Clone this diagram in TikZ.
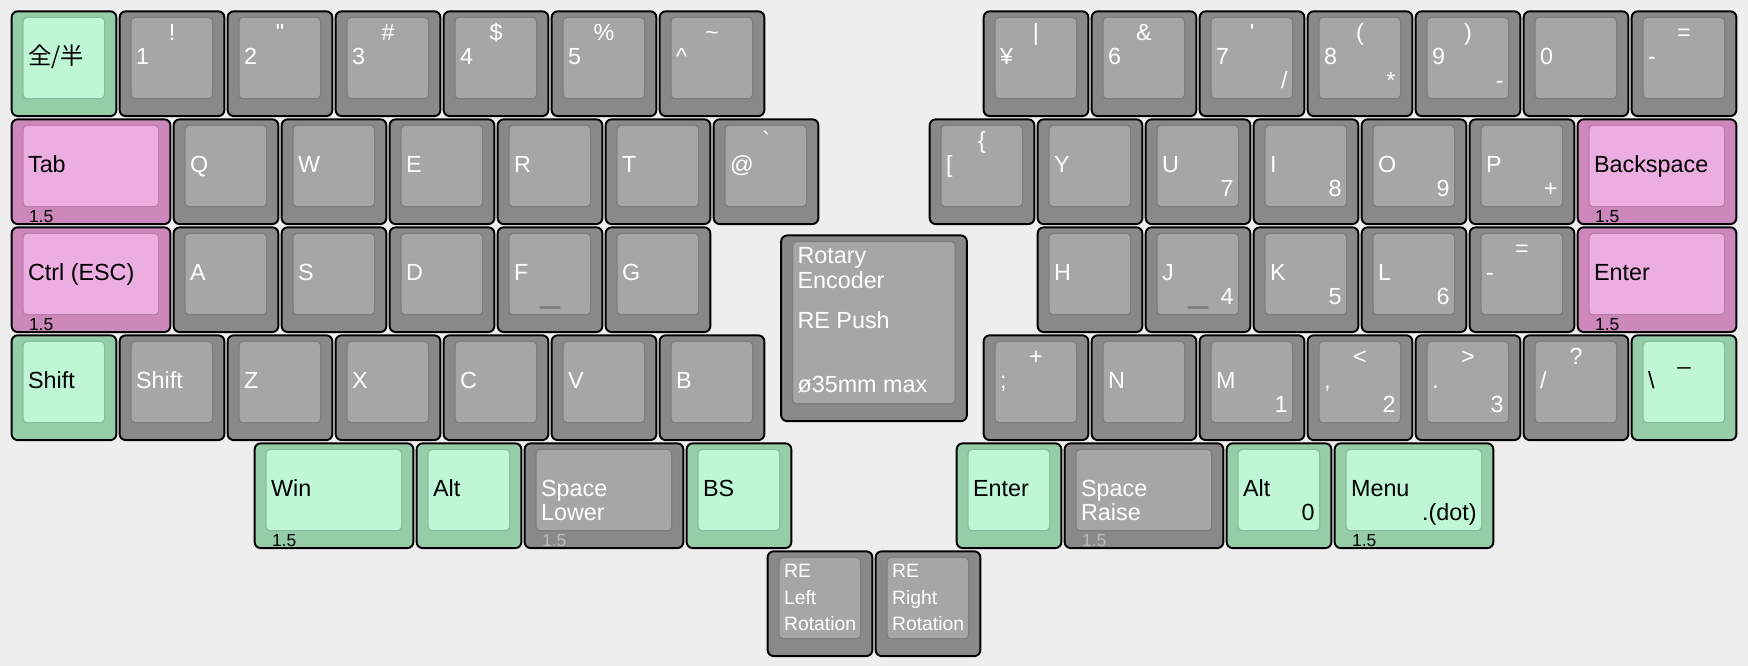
\documentclass[tikz,border=0pt]{standalone}
\usepackage{fontspec}
\setmainfont{Liberation Sans}
\newfontfamily\jpfont{Noto Sans CJK JP}
\usepackage{xcolor}
\usepackage{tikz}

\definecolor{bgcol}{HTML}{EEEEEE}
\definecolor{kgd}{HTML}{898989}
\definecolor{kgl}{HTML}{A6A6A6}
\definecolor{kgrd}{HTML}{95CDA9}
\definecolor{kgrl}{HTML}{BFF7D6}
\definecolor{kpd}{HTML}{CD88BB}
\definecolor{kpl}{HTML}{ECADE0}
\definecolor{kfaint}{HTML}{BBBBBB}

\newcommand{\keyfont}{\fontsize{6.15}{7}\selectfont}
\newcommand{\sizefont}{\fontsize{4.6}{5}\selectfont}
\newcommand{\smallkeyfont}{\fontsize{5.1}{6}\selectfont}

\begin{document}
\begin{tikzpicture}[
    key/.style 2 args={rectangle, draw=black, line width=0.5pt, rounded corners=1.6pt, inner sep=0pt,
        minimum width=1cm-0.3mm, minimum height=1cm-0.3mm, fill=#1,
        path picture={\draw[#1!92!black, line width=0.35pt, fill=#2, rounded corners=1.1pt]
            ([xshift=1.05mm,yshift=-0.55mm]path picture bounding box.north west) rectangle
            ([xshift=-1.08mm,yshift=1.6mm]path picture bounding box.south east);}},
    gkey/.style={key={kgd}{kgl}},
    grkey/.style={key={kgrd}{kgrl}},
    pkey/.style={key={kpd}{kpl}},
    kw/.style={minimum width=#1cm-0.3mm},
    lbl/.style={font=\keyfont, text=white, inner sep=0pt, outer sep=0pt},
    dlbl/.style={font=\keyfont, text=black, inner sep=0pt, outer sep=0pt},
    ml/.style={label={[lbl,anchor=base west,xshift=1.61mm,yshift=-5.03mm]north west:{#1}}},
    ml2/.style={label={[lbl,anchor=base west,xshift=1.61mm,yshift=-7.25mm]north west:{#1}}},
    mk/.style={label={[dlbl,anchor=base west,xshift=1.61mm,yshift=-5.03mm]north west:{#1}}},
    tc/.style={label={[lbl,anchor=base,yshift=-2.81mm]north:{#1}}},
    tk/.style={label={[dlbl,anchor=base,yshift=-2.81mm]north:{#1}}},
    br/.style={label={[lbl,anchor=base east,xshift=-1.65mm,yshift=-7.25mm]north east:{#1}}},
    bk/.style={label={[dlbl,anchor=base east,xshift=-1.65mm,yshift=-7.25mm]north east:{#1}}},
    wl/.style={label={[dlbl,font=\sizefont,anchor=base west,xshift=1.7mm,yshift=-9.6mm]north west:{#1}}},
    wlg/.style={label={[lbl,text=kfaint,font=\sizefont,anchor=base west,xshift=1.7mm,yshift=-9.6mm]north west:{#1}}},
    tl/.style 2 args={label={[lbl,anchor=base west,xshift=1.61mm,yshift=-#1cm]north west:{#2}}},
    rl/.style 2 args={label={[lbl,font=\smallkeyfont,anchor=base west,xshift=1.61mm,yshift=-#1cm]north west:{#2}}},
    nub/.style={draw=kgd!92!black, line width=0.9pt, line cap=round}
]
\useasboundingbox (-0.0926,0.09) rectangle (16.0926,-6.0767);
\fill[bgcol] (-0.0926,0.09) rectangle (16.0926,-6.0767);

% number row, left hand
\node[grkey, mk={\jpfont 全/半}] (kZen) at (0.5,-0.5) {};
\node[gkey, ml={1}, tc={!}] (k1) at (1.5,-0.5) {};
\node[gkey, ml={2}, tc={\textquotedbl}] (k2) at (2.5,-0.5) {};
\node[gkey, ml={3}, tc={\#}] (k3) at (3.5,-0.5) {};
\node[gkey, ml={4}, tc={\$}] (k4) at (4.5,-0.5) {};
\node[gkey, ml={5}, tc={\%}] (k5) at (5.5,-0.5) {};
\node[gkey, ml={\textasciicircum}, tc={\textasciitilde}] (kCaret) at (6.5,-0.5) {};

% number row, right hand
\node[gkey, ml={¥}, tc={|}] (kYen) at (9.5,-0.5) {};
\node[gkey, ml={6}, tc={\&}] (k6) at (10.5,-0.5) {};
\node[gkey, ml={7}, tc={\textquotesingle}, br={/}] (k7) at (11.5,-0.5) {};
\node[gkey, ml={8}, tc={(}, br={*}] (k8) at (12.5,-0.5) {};
\node[gkey, ml={9}, tc={)}, br={-}] (k9) at (13.5,-0.5) {};
\node[gkey, ml={0}] (k0) at (14.5,-0.5) {};
\node[gkey, ml={-}, tc={=}] (kMinus) at (15.5,-0.5) {};

% top row
\node[pkey, kw=1.5, mk={Tab}, wl={1.5}] (kTab) at (0.75,-1.5) {};
\node[gkey, ml={Q}] (kQ) at (2.0,-1.5) {};
\node[gkey, ml={W}] (kW) at (3.0,-1.5) {};
\node[gkey, ml={E}] (kE) at (4.0,-1.5) {};
\node[gkey, ml={R}] (kR) at (5.0,-1.5) {};
\node[gkey, ml={T}] (kT) at (6.0,-1.5) {};
\node[gkey, ml={@}, tc={\textasciigrave}] (kAt) at (7.0,-1.5) {};
\node[gkey, ml={[}, tc={\{}] (kLBrack) at (9.0,-1.5) {};
\node[gkey, ml={Y}] (kY) at (10.0,-1.5) {};
\node[gkey, ml={U}, br={7}] (kU) at (11.0,-1.5) {};
\node[gkey, ml={I}, br={8}] (kI) at (12.0,-1.5) {};
\node[gkey, ml={O}, br={9}] (kO) at (13.0,-1.5) {};
\node[gkey, ml={P}, br={+}] (kP) at (14.0,-1.5) {};
\node[pkey, kw=1.5, mk={Backspace}, wl={1.5}] (kBack) at (15.25,-1.5) {};

% home row
\node[pkey, kw=1.5, mk={Ctrl (ESC)}, wl={1.5}] (kCtrl) at (0.75,-2.5) {};
\node[gkey, ml={A}] (kA) at (2.0,-2.5) {};
\node[gkey, ml={S}] (kS) at (3.0,-2.5) {};
\node[gkey, ml={D}] (kD) at (4.0,-2.5) {};
\node[gkey, ml={F}] (kF) at (5.0,-2.5) {};
\node[gkey, ml={G}] (kG) at (6.0,-2.5) {};
\node[gkey, ml={H}] (kH) at (10.0,-2.5) {};
\node[gkey, ml={J}, br={4}] (kJ) at (11.0,-2.5) {};
\node[gkey, ml={K}, br={5}] (kK) at (12.0,-2.5) {};
\node[gkey, ml={L}, br={6}] (kL) at (13.0,-2.5) {};
\node[gkey, ml={-}, tc={=}] (kHyph) at (14.0,-2.5) {};
\node[pkey, kw=1.5, mk={Enter}, wl={1.5}] (kEnter) at (15.25,-2.5) {};
\draw[nub] ([xshift=-0.85mm,yshift=2.35mm]kF.south) -- ([xshift=0.85mm,yshift=2.35mm]kF.south);
\draw[nub] ([xshift=-0.85mm,yshift=2.35mm]kJ.south) -- ([xshift=0.85mm,yshift=2.35mm]kJ.south);

% rotary encoder
\node[gkey, minimum width=1.75cm-0.3mm, minimum height=1.75cm-0.3mm,
    tl={0.272}{Rotary}, tl={0.497}{Encoder}, tl={0.874}{RE Push}, tl={1.465}{ø35mm max}] (kEnc) at (8.0,-2.95) {};

% bottom row
\node[grkey, mk={Shift}] (kShiftL) at (0.5,-3.5) {};
\node[gkey, ml={Shift}] (kShift) at (1.5,-3.5) {};
\node[gkey, ml={Z}] (kZ) at (2.5,-3.5) {};
\node[gkey, ml={X}] (kX) at (3.5,-3.5) {};
\node[gkey, ml={C}] (kC) at (4.5,-3.5) {};
\node[gkey, ml={V}] (kV) at (5.5,-3.5) {};
\node[gkey, ml={B}] (kB) at (6.5,-3.5) {};
\node[gkey, ml={;}, tc={+}] (kSemi) at (9.5,-3.5) {};
\node[gkey, ml={N}] (kN) at (10.5,-3.5) {};
\node[gkey, ml={M}, br={1}] (kM) at (11.5,-3.5) {};
\node[gkey, ml={,}, tc={<}, br={2}] (kComma) at (12.5,-3.5) {};
\node[gkey, ml={.}, tc={>}, br={3}] (kDot) at (13.5,-3.5) {};
\node[gkey, ml={/}, tc={?}] (kSlash) at (14.5,-3.5) {};
\node[grkey, mk={\textbackslash}, tk={\_}] (kBslash) at (15.5,-3.5) {};

% thumb row
\node[grkey, kw=1.5, mk={Win}, wl={1.5}] (kWin) at (3.0,-4.5) {};
\node[grkey, mk={Alt}] (kAltL) at (4.25,-4.5) {};
\node[gkey, kw=1.5, ml={Space}, ml2={Lower}, wlg={1.5}] (kLower) at (5.5,-4.5) {};
\node[grkey, mk={BS}] (kBS) at (6.75,-4.5) {};
\node[grkey, mk={Enter}] (kEnterR) at (9.25,-4.5) {};
\node[gkey, kw=1.5, ml={Space}, ml2={Raise}, wlg={1.5}] (kRaise) at (10.5,-4.5) {};
\node[grkey, mk={Alt}, bk={0}] (kAltR) at (11.75,-4.5) {};
\node[grkey, kw=1.5, mk={Menu}, bk={.(dot)}, wl={1.5}] (kMenu) at (13.0,-4.5) {};

% encoder rotation
\node[gkey, rl={0.253}{RE}, rl={0.50}{Left}, rl={0.74}{Rotation}] (kRotL) at (7.5,-5.5) {};
\node[gkey, rl={0.253}{RE}, rl={0.50}{Right}, rl={0.74}{Rotation}] (kRotR) at (8.5,-5.5) {};

\end{tikzpicture}
\end{document}
